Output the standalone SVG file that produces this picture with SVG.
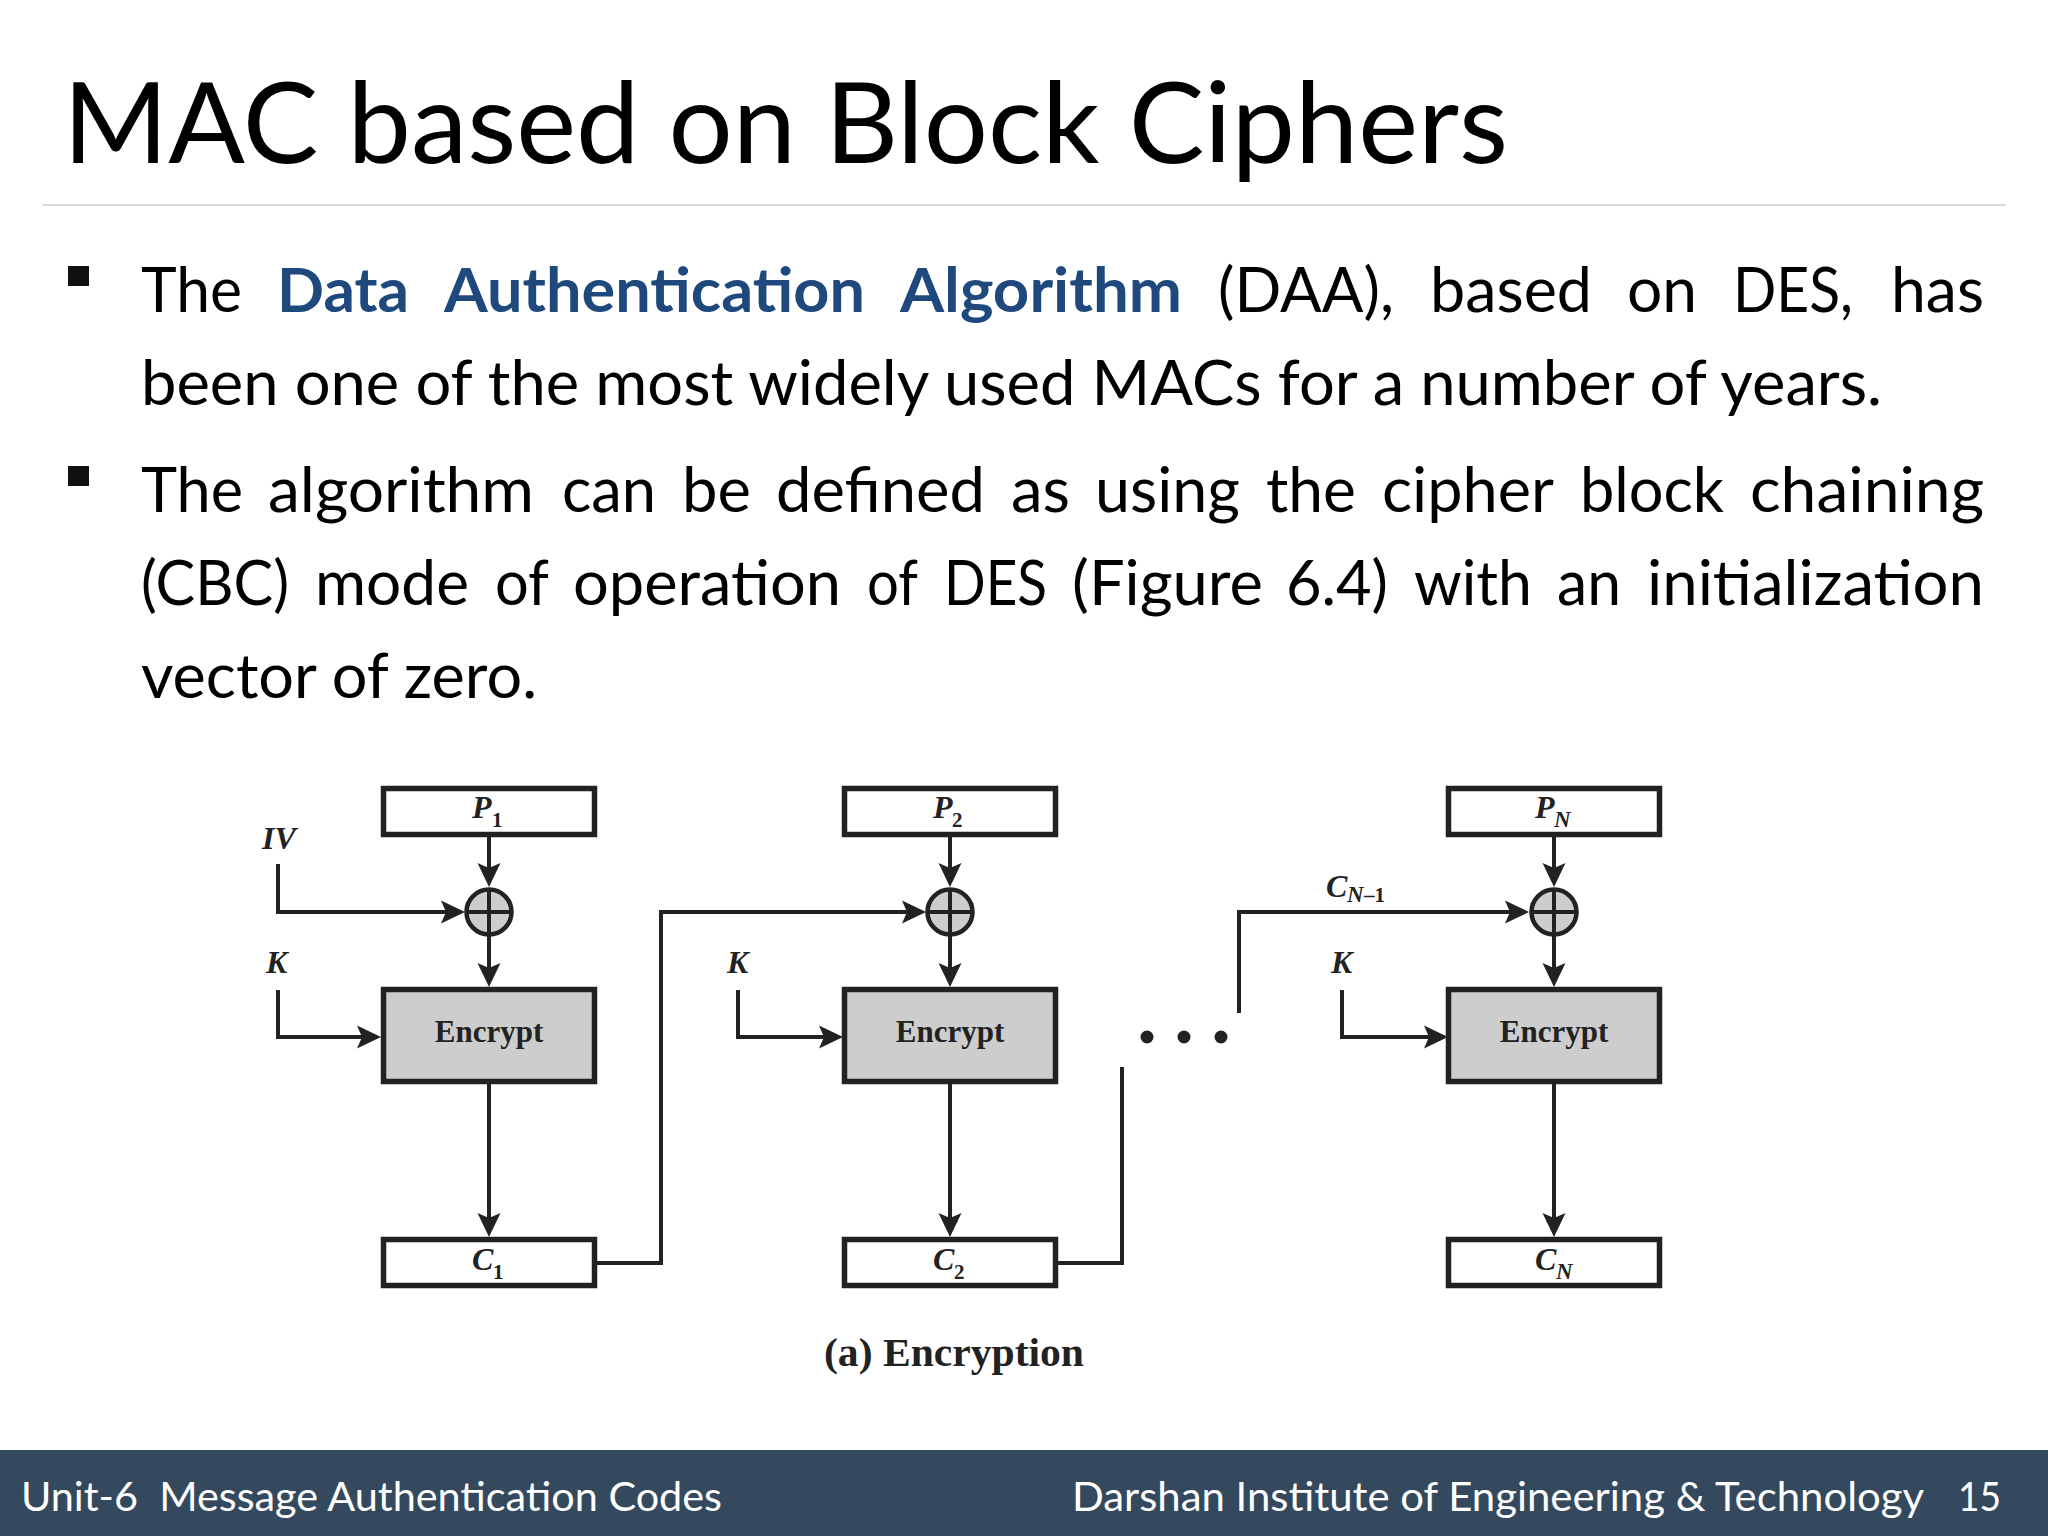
<svg xmlns="http://www.w3.org/2000/svg" width="2048" height="1536" viewBox="0 0 2048 1536">
<defs>
<marker id="arr" markerUnits="userSpaceOnUse" markerWidth="28" markerHeight="26" refX="15" refY="13" orient="auto"><path d="M0,1.500 L24,13 L0,24.500 L5,13 Z" fill="#222"/></marker>
</defs>
<style>
.t{font-family:"Lato","Carlito",sans-serif;font-size:61px;fill:#000}
.b{font-weight:700;fill:#1f497d}
.f{font-family:"Lato","Carlito",sans-serif;font-size:40px;fill:#fff}
.box{fill:#fff;stroke:#222;stroke-width:5.500}
.enc{fill:#cdcdcd;stroke:#222;stroke-width:5.500}
.x{fill:#cdcdcd;stroke:#222;stroke-width:4.500}
.c{fill:none;stroke:#222;stroke-width:4}
.l{font-family:"Liberation Serif",serif;font-weight:700;fill:#222;font-size:31px;text-anchor:middle}
.i{font-family:"Liberation Serif",serif;font-weight:700;font-style:italic;fill:#222;font-size:32px}
.s{font-family:"Liberation Serif",serif;font-weight:700;fill:#222;font-size:21px}
.si{font-family:"Liberation Serif",serif;font-style:italic;fill:#222;font-size:23px}
</style>
<rect width="2048" height="1536" fill="#fff"/>
<text x="63" y="163" font-family="Lato, Carlito, sans-serif" font-size="113" fill="#000" textLength="1445" lengthAdjust="spacingAndGlyphs">MAC based on Block Ciphers</text>
<rect x="43" y="204" width="1963" height="2" fill="#d9d9d9"/>
<rect x="68" y="266" width="21" height="20" fill="#111"/>
<rect x="68" y="466" width="21" height="20" fill="#111"/>
<g id="body">
<text class="t" x="141" y="312" textLength="101" lengthAdjust="spacingAndGlyphs">The</text>
<text class="t b" x="277" y="312" textLength="132" lengthAdjust="spacingAndGlyphs">Data</text>
<text class="t b" x="444" y="312" textLength="421" lengthAdjust="spacingAndGlyphs">Authentication</text>
<text class="t b" x="900" y="312" textLength="282" lengthAdjust="spacingAndGlyphs">Algorithm</text>
<text class="t" x="1218" y="312" textLength="176" lengthAdjust="spacingAndGlyphs">(DAA),</text>
<text class="t" x="1430" y="312" textLength="162" lengthAdjust="spacingAndGlyphs">based</text>
<text class="t" x="1627" y="312" textLength="70" lengthAdjust="spacingAndGlyphs">on</text>
<text class="t" x="1733" y="312" textLength="120" lengthAdjust="spacingAndGlyphs">DES,</text>
<text class="t" x="1891" y="312" textLength="93" lengthAdjust="spacingAndGlyphs">has</text>
<text class="t" x="141" y="405" textLength="1741" lengthAdjust="spacingAndGlyphs">been one of the most widely used MACs for a number of years.</text>
<text class="t" x="141" y="512" textLength="102" lengthAdjust="spacingAndGlyphs">The</text>
<text class="t" x="268" y="512" textLength="266" lengthAdjust="spacingAndGlyphs">algorithm</text>
<text class="t" x="562" y="512" textLength="94" lengthAdjust="spacingAndGlyphs">can</text>
<text class="t" x="682" y="512" textLength="69" lengthAdjust="spacingAndGlyphs">be</text>
<text class="t" x="776" y="512" textLength="209" lengthAdjust="spacingAndGlyphs">defined</text>
<text class="t" x="1011" y="512" textLength="59" lengthAdjust="spacingAndGlyphs">as</text>
<text class="t" x="1095" y="512" textLength="145" lengthAdjust="spacingAndGlyphs">using</text>
<text class="t" x="1266" y="512" textLength="90" lengthAdjust="spacingAndGlyphs">the</text>
<text class="t" x="1382" y="512" textLength="172" lengthAdjust="spacingAndGlyphs">cipher</text>
<text class="t" x="1580" y="512" textLength="144" lengthAdjust="spacingAndGlyphs">block</text>
<text class="t" x="1750" y="512" textLength="234" lengthAdjust="spacingAndGlyphs">chaining</text>
<text class="t" x="141" y="605" textLength="148" lengthAdjust="spacingAndGlyphs">(CBC)</text>
<text class="t" x="315" y="605" textLength="154" lengthAdjust="spacingAndGlyphs">mode</text>
<text class="t" x="495" y="605" textLength="54" lengthAdjust="spacingAndGlyphs">of</text>
<text class="t" x="573" y="605" textLength="268" lengthAdjust="spacingAndGlyphs">operation</text>
<text class="t" x="867" y="605" textLength="51" lengthAdjust="spacingAndGlyphs">of</text>
<text class="t" x="944" y="605" textLength="103" lengthAdjust="spacingAndGlyphs">DES</text>
<text class="t" x="1072" y="605" textLength="191" lengthAdjust="spacingAndGlyphs">(Figure</text>
<text class="t" x="1286" y="605" textLength="102" lengthAdjust="spacingAndGlyphs">6.4)</text>
<text class="t" x="1414" y="605" textLength="118" lengthAdjust="spacingAndGlyphs">with</text>
<text class="t" x="1557" y="605" textLength="64" lengthAdjust="spacingAndGlyphs">an</text>
<text class="t" x="1647" y="605" textLength="337" lengthAdjust="spacingAndGlyphs">initialization</text>
<text class="t" x="141" y="698" textLength="396" lengthAdjust="spacingAndGlyphs">vector of zero.</text>
</g>
<g id="connectors">
<path class="c" d="M489,837V878" marker-end="url(#arr)"/>
<path class="c" d="M489,934V978" marker-end="url(#arr)"/>
<path class="c" d="M278,864V912H456" marker-end="url(#arr)"/>
<path class="c" d="M278,990V1037H372" marker-end="url(#arr)"/>
<path class="c" d="M489,1084V1228" marker-end="url(#arr)"/>
<path class="c" d="M597,1263H661V912H917" marker-end="url(#arr)"/>
<path class="c" d="M950,837V878" marker-end="url(#arr)"/>
<path class="c" d="M950,934V978" marker-end="url(#arr)"/>
<path class="c" d="M738,990V1037H834" marker-end="url(#arr)"/>
<path class="c" d="M950,1084V1228" marker-end="url(#arr)"/>
<path class="c" d="M1057,1263H1122V1067"/>
<path class="c" d="M1239,1013V912H1520" marker-end="url(#arr)"/>
<path class="c" d="M1554,837V878" marker-end="url(#arr)"/>
<path class="c" d="M1554,934V978" marker-end="url(#arr)"/>
<path class="c" d="M1342,990V1037H1439" marker-end="url(#arr)"/>
<path class="c" d="M1554,1084V1228" marker-end="url(#arr)"/>
</g>
<g id="p1"><rect class="box" x="383.500" y="788.500" width="211" height="46"/><text class="i" x="472" y="818">P</text><text class="s" x="492" y="827">1</text></g>
<g id="p2"><rect class="box" x="844.500" y="788.500" width="211" height="46"/><text class="i" x="933" y="818">P</text><text class="s" x="952" y="827">2</text></g>
<g id="pn"><rect class="box" x="1448.500" y="788.500" width="211" height="46"/><text class="i" x="1535" y="818">P</text><text class="si" x="1554" y="827" font-weight="700">N</text></g>
<g id="xor1"><circle class="x" cx="489" cy="912" r="22.500"/><path class="c" d="M467,912H511M489,890V934"/></g>
<g id="xor2"><circle class="x" cx="950" cy="912" r="22.500"/><path class="c" d="M928,912H972M950,890V934"/></g>
<g id="xorn"><circle class="x" cx="1554" cy="912" r="22.500"/><path class="c" d="M1532,912H1576M1554,890V934"/></g>
<g id="enc1"><rect class="enc" x="383.500" y="989.500" width="211" height="92"/><text class="l" x="489" y="1042">Encrypt</text></g>
<g id="enc2"><rect class="enc" x="844.500" y="989.500" width="211" height="92"/><text class="l" x="950" y="1042">Encrypt</text></g>
<g id="encn"><rect class="enc" x="1448.500" y="989.500" width="211" height="92"/><text class="l" x="1554" y="1042">Encrypt</text></g>
<g id="c1"><rect class="box" x="383.500" y="1239.500" width="211" height="46"/><text class="i" x="472" y="1270">C</text><text class="s" x="493" y="1279">1</text></g>
<g id="c2"><rect class="box" x="844.500" y="1239.500" width="211" height="46"/><text class="i" x="933" y="1270">C</text><text class="s" x="954" y="1279">2</text></g>
<g id="cn"><rect class="box" x="1448.500" y="1239.500" width="211" height="46"/><text class="i" x="1535" y="1270">C</text><text class="si" x="1556" y="1279" font-weight="700">N</text></g>
<g id="labels">
<text class="i" x="262" y="849" textLength="34" lengthAdjust="spacingAndGlyphs">IV</text>
<text class="i" x="266" y="973">K</text>
<text class="i" x="727" y="973">K</text>
<text class="i" x="1331" y="973">K</text>
<text class="i" x="1326" y="897">C</text><text class="si" x="1347" y="902" font-weight="700">N</text><text class="s" x="1364" y="902">–1</text>
<circle cx="1147" cy="1037" r="6.500" fill="#222"/><circle cx="1184" cy="1037" r="6.500" fill="#222"/><circle cx="1221" cy="1037" r="6.500" fill="#222"/>
<text x="824" y="1366" font-family="Liberation Serif, serif" font-weight="700" font-size="40" fill="#222" textLength="260" lengthAdjust="spacingAndGlyphs">(a) Encryption</text>
</g>
<g id="footer">
<rect x="0" y="1450" width="2048" height="86" fill="#34495e"/>
<text class="f" x="21" y="1511" textLength="701" lengthAdjust="spacingAndGlyphs" xml:space="preserve">Unit-6  Message Authentication Codes</text>
<text class="f" x="1072" y="1511" textLength="852" lengthAdjust="spacingAndGlyphs">Darshan Institute of Engineering &amp; Technology</text>
<text class="f" x="1958" y="1511" textLength="43" lengthAdjust="spacingAndGlyphs">15</text>
</g>
</svg>
